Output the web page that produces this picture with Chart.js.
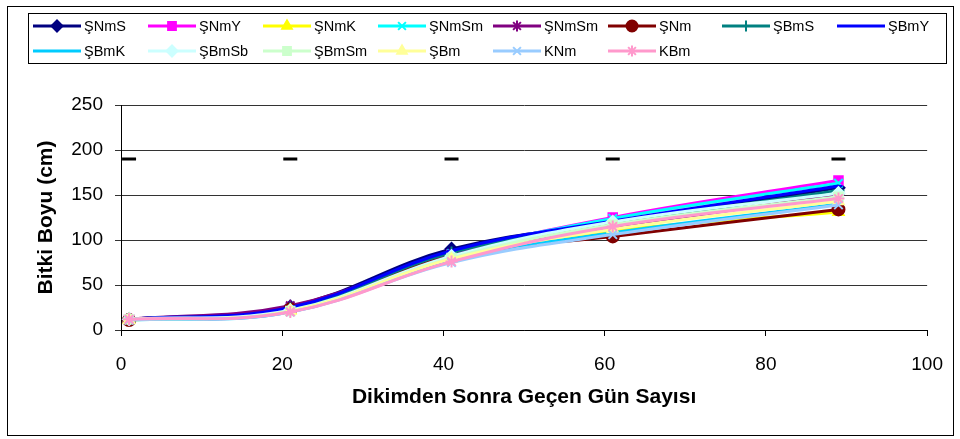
<!DOCTYPE html>
<html>
<head>
<meta charset="utf-8">
<script src="https://cdn.jsdelivr.net/npm/chart.js@4/dist/chart.umd.min.js"></script>
<style>
  html, body { margin: 0; padding: 0; background: #fff; }
  #wrap { width: 960px; height: 439px; position: relative; }
</style>
</head>
<body>
<div id="wrap"><canvas id="c" width="960" height="439"></canvas></div>
<script>
// Days after transplanting
const days = [1, 21, 41, 61, 89];

// Plant height (cm) per treatment
const seriesNames = ['ŞNmS', 'ŞNmY', 'ŞNmK', 'ŞNmSm', 'ŞNmSm', 'ŞNm', 'ŞBmS', 'ŞBmY',
                     'ŞBmK', 'ŞBmSb', 'ŞBmSm', 'ŞBm', 'KNm', 'KBm'];
const sNmS   = [12, 26, 90, 119, 158];
const sNmY   = [12, 24, 84, 125, 166];
const sNmK   = [11, 22, 80, 110, 131];
const sNmSm1 = [12, 25, 85, 124, 163];
const sNmSm2 = [12, 27, 84, 114, 150];
const sNm    = [11, 23, 82, 104, 134];
const sBmS   = [12, 24, 86, 118, 155];
const sBmY   = [12, 25, 88, 121, 160];
const sBmK   = [11, 20, 78, 108, 140];
const sBmSb  = [12, 22, 82, 120, 152];
const sBmSm  = [12, 21, 80, 117, 148];
const sBm    = [11, 21, 79, 112, 143];
const kNm    = [11, 20, 75, 106, 139];
const kBm    = [12, 20, 76, 115, 146];
const seriesValues = [sNmS, sNmY, sNmK, sNmSm1, sNmSm2, sNm, sBmS, sBmY,
                      sBmK, sBmSb, sBmSm, sBm, kNm, kBm];

// Short black bars drawn above each sampling day
const lsdMarks = [190, 190, 190, 190, 190];

// Axis ticks
const xTicks = [0, 20, 40, 60, 80, 100];
const yTicks = [0, 50, 100, 150, 200, 250];

const colors = ['#000080', '#FF00FF', '#FFFF00', '#00FFFF', '#800080', '#800000', '#008080', '#0000FF',
                '#00CCFF', '#CCFFFF', '#CCFFCC', '#FFFF99', '#99CCFF', '#FF99CC'];
const styles = ['rectRot', 'rect', 'triangle', 'crossRot', 'star', 'circle', 'cross', 'line',
                'line', 'rectRot', 'rect', 'triangle', 'crossRot', 'star'];

const FONT = '"Liberation Sans", Arial, sans-serif';

const datasets = seriesNames.map((name, i) => ({
  label: name,
  data: days.map((d, j) => ({ x: d, y: seriesValues[i][j] })),
  borderColor: colors[i],
  backgroundColor: colors[i],
  borderWidth: 3,
  tension: 0.4,
  pointStyle: styles[i],
  pointRadius: styles[i] === 'line' ? 4 : 6,
  pointBorderWidth: 2,
  pointBackgroundColor: colors[i],
  pointBorderColor: colors[i],
  order: seriesNames.length - i + 1
}));

datasets.push({
  label: 'lsd',
  data: days.map((d, j) => ({ x: d, y: lsdMarks[j] })),
  showLine: false,
  pointStyle: 'line',
  pointRadius: 7,
  pointBorderWidth: 3,
  borderColor: '#000',
  backgroundColor: '#000',
  order: 0
});

// Frame around the whole figure plus the boxed legend
const framePlugin = {
  id: 'frame',
  afterDraw(chart) {
    const ctx = chart.ctx;
    ctx.save();
    ctx.strokeStyle = '#000';
    ctx.lineWidth = 1;
    ctx.strokeRect(7.5, 6.5, 946, 429);
    ctx.strokeRect(28.5, 13.5, 918, 50);

    const colX = [33, 148, 263, 378, 493, 608, 722, 837];
    const rowY = [26, 51];
    ctx.font = '14.5px ' + FONT;
    ctx.textBaseline = 'middle';
    ctx.textAlign = 'left';
    seriesNames.forEach((name, i) => {
      const x0 = colX[i % 8];
      const y = rowY[Math.floor(i / 8)];
      ctx.strokeStyle = colors[i];
      ctx.fillStyle = colors[i];
      ctx.lineWidth = 3;
      ctx.beginPath();
      ctx.moveTo(x0, y);
      ctx.lineTo(x0 + 48, y);
      ctx.stroke();
      ctx.lineWidth = 2;
      Chart.helpers.drawPoint(ctx, {
        pointStyle: styles[i],
        radius: styles[i] === 'line' ? 4 : 5.5,
        rotation: 0,
        borderWidth: 2
      }, x0 + 24, y);
      ctx.fillStyle = '#000';
      ctx.fillText(name, x0 + 51, y + 1);
    });
    ctx.restore();
  }
};

new Chart(document.getElementById('c'), {
  type: 'line',
  data: { datasets },
  plugins: [framePlugin],
  options: {
    responsive: false,
    animation: false,
    events: [],
    layout: { padding: { top: 105, right: 32, bottom: 0, left: 0 } },
    plugins: { legend: { display: false }, tooltip: { enabled: false } },
    scales: {
      x: {
        type: 'linear',
        min: 0, max: 100,
        afterFit(scale) { scale.height = 109; },
        afterBuildTicks(scale) { scale.ticks = xTicks.map(v => ({ value: v })); },
        border: { display: true, color: '#000', width: 1 },
        grid: { drawOnChartArea: false, drawTicks: true, tickLength: 6, color: '#000' },
        ticks: { color: '#000', font: { family: FONT, size: 19 }, padding: 17, maxRotation: 0 },
        title: {
          display: true,
          text: 'Dikimden Sonra Geçen Gün Sayısı',
          color: '#000',
          font: { family: FONT, size: 21, weight: 'bold' },
          padding: { top: 0, bottom: 29 }
        }
      },
      y: {
        type: 'linear',
        min: 0, max: 250,
        afterFit(scale) { scale.width = 121; },
        afterBuildTicks(scale) { scale.ticks = yTicks.map(v => ({ value: v })); },
        border: { display: true, color: '#000', width: 1 },
        grid: { drawOnChartArea: true, drawTicks: true, tickLength: 6, color: '#333' },
        ticks: { color: '#000', font: { family: FONT, size: 19 }, padding: 12 },
        title: {
          display: true,
          text: 'Bitki Boyu (cm)',
          color: '#000',
          font: { family: FONT, size: 21, weight: 'bold' },
          padding: { top: 34, bottom: 0 }
        }
      }
    }
  }
});
</script>
</body>
</html>
